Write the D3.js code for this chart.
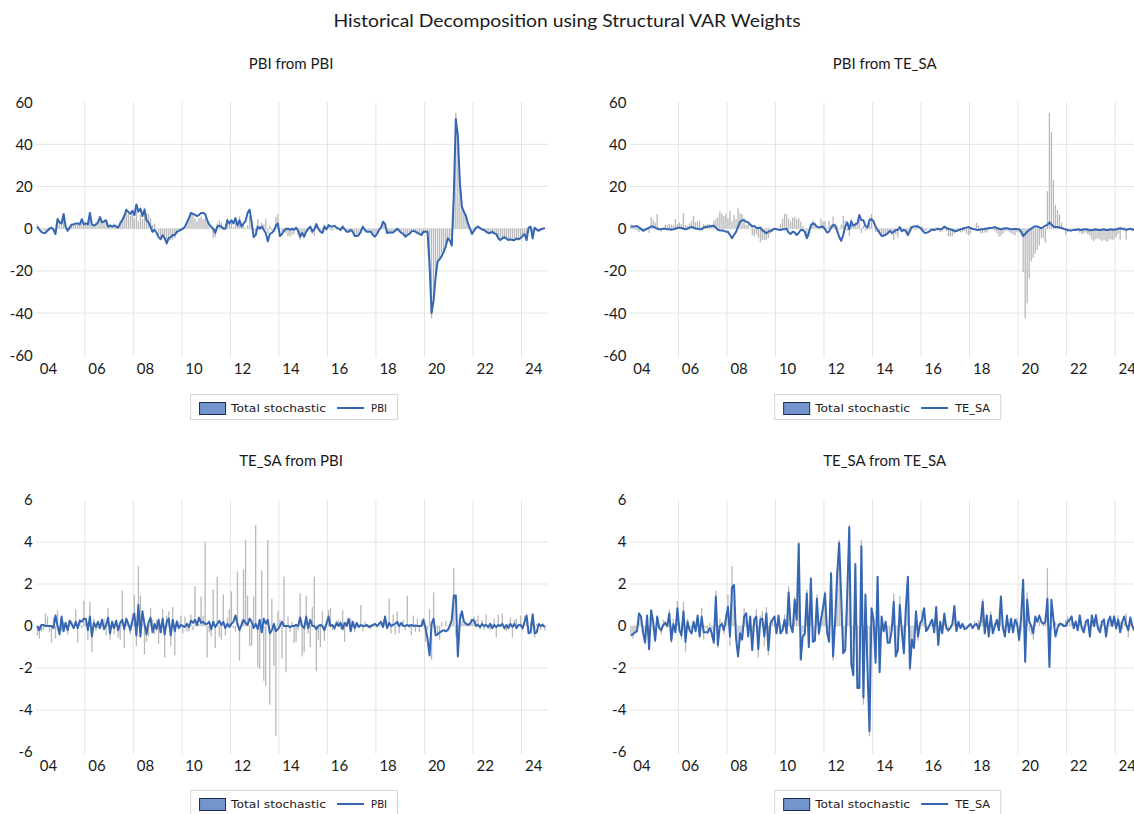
<!DOCTYPE html>
<html>
<head>
<meta charset="utf-8">
<script src="https://cdn.jsdelivr.net/npm/d3@7"></script>
<style>
  body { margin: 0; background: #ffffff; }
  svg { display: block; }
  text { font-family: Lato, "Open Sans", "Liberation Sans", sans-serif; fill: #1a1a1a; }
  .legend text { font-family: "DejaVu Sans", Verdana, sans-serif; }
</style>
</head>
<body>
<svg id="chart" width="1134" height="814"></svg>
<script>
// Monthly sample, 2004M01 - 2024M12
const startYear = 2004;
const nMonths = 252;
const xTickLabels = ["04", "06", "08", "10", "12", "14", "16", "18", "20", "22", "24"];
const pbiTicks = [-60, -40, -20, 0, 20, 40, 60];
const teTicks = [-6, -4, -2, 0, 2, 4, 6];

// PBI: total stochastic component
const pbiTotal = [
  2, 0.5, -0.5, -0.7, -1.5, -1, -1, 0, -0.5, -2, 5.5, 4,
  3, 7, 0.7, -1.3, 0.5, 2, 1.7, 2.2, 2, 1.7, 4.5, 2.3,
  3, 2.3, 7.5, 1.7, 1.5, 2.5, 3.8, 6, 3, 3.5, 3.7, 0.7,
  2.1, 1.8, 2.4, 2.1, 1.8, 3.9, 4.5, 5.5, 8.2, 7.1, 6, 7.1,
  5, 8.5, 3.5, 6.5, 4.5, 10, 7.3, 7, 5, 1.8, 2.5, 0,
  -3, -3.7, -2.5, -4.3, -6.4, -5.3, -5.4, -5.2, -4.4, -2.5, -1.6, -0.5,
  -0.3, 0.5, 2.4, 4.7, 7.2, 7, 4.7, 3.5, 5.1, 5.7, 4.5, 5,
  3.4, 1.4, -0.4, -4.5, -4, 2.5, 4, 3, 1, 0.6, 4.8, 3.5,
  3.7, 0.7, 3.6, 2, 5.8, 2.5, 1.5, -0.3, 1.7, 6, 4, -1,
  -3.3, 4.5, 1.4, 3, 2, 4.5, -2, 1.5, -0.8, -0.4, 5.5, 7,
  0, -1.5, -1.6, -2, -3.5, -3.7, -3, -2.7, -0.5, -3, -5.3, -2.6,
  -4.4, -0.6, -1.2, 0.4, -2.4, -3.3, 1.2, 0.8, -0.4, -0.8, 2, 0.2,
  1.1, -0.8, -1, -0.2, -0.5, -0.3, -1.2, 0.7, -0.3, -1.7, -1.4, 0.4,
  -1.1, -3.5, -3.8, -3.6, -2.4, -0.2, -1.2, -1.7, -1.4, -1.1, -2.5, -3,
  -2.2, -0.6, 0.2, 2.8, 1.6, -2.3, -2.1, -1.8, -1.8, -0.7, 0.3, -0.5,
  -1.2, -2.2, -3.8, -3.3, -2.5, -1.2, -0.8, -1.4, -2.3, -2.7, -3.2, -1.7,
  -1.7, -2.8, -20.5, -42.5, -35.4, -23.6, -15.5, -13.9, -11.8, -10, -7.9, -4.3,
  -4.7, -6.6, 17.8, 55, 46, 23, 11.3, 8.8, 6.6, 2.8, 0, -2.8,
  -1.6, -0.3, 0.2, -0.3, -0.9, -0.9, -1.9, -2.6, -2.3, -1.8, -2.7, -3.3,
  -5.1, -5.9, -4.9, -4.6, -5.2, -5.9, -5.3, -6, -6, -4.9, -5.5, -5,
  -3.8, -2.5, -5.2, 0.5, 0.7, -5.1, 0.2, -0.5, -1.3, -0.8, -0.3, 0.1
];

// PBI: contribution of PBI shocks
const pbiFromPbi = [
  1, -0.5, -1.5, -2, -2, -1, 0, 0.5, -0.5, -2.5, 4.5, 3,
  2.5, 7, 1, -1, 0.5, 2, 2, 2.5, 2.5, 2, 4.5, 2,
  2.5, 2, 7.5, 2, 1.5, 2, 3, 5.5, 3, 3.5, 4, 1,
  1.5, 1, 1.5, 1, 0.5, 2.5, 4, 6, 9, 8, 7, 8.5,
  6.5, 11.5, 8, 9.5, 6, 9, 4, 3, 1, -1.5, -0.5, -2,
  -4, -5, -3, -4.5, -7, -4.5, -4, -3, -3, -1.5, -1, -0.5,
  0, 1, 3, 5, 7.5, 7, 6.5, 6, 6.5, 7.5, 7.5, 7,
  4, 2, 1, 0, -2, 1, 1.5, 1, 0, 0, 4, 2.5,
  4, 2.5, 5, 1.5, 4, 1, 2.5, 3.5, 7.5, 9, 3, -4,
  -3, 1, 0, 1, -0.5, -2, -6, -2.5, -2, -1, 1.5, 2.5,
  -3.5, -2.5, -1, 0, 0, -0.5, 0, -0.5, 0.5, -1, -3.8, -2,
  -3.8, -1.4, 0, 1, -1.4, -0.3, 2.2, 0, -1.4, -2, 1, -0.3,
  1.7, 1, 1, 1.4, 0.5, 0, -0.6, 1, -0.3, -1.4, -1.4, -0.6,
  -1.4, -3.5, -3.5, -3, -1.4, 1, -0.6, -1.4, -1.4, -1.4, -3, -3.8,
  -2.5, -0.6, 0.5, 3.3, 2.2, -2, -1.8, -1.8, -1.8, -1, 0, -1,
  -2, -2.5, -3.8, -3, -2.5, -1.4, -1, -1.4, -2, -2.5, -3, -1.5,
  -1.4, -1.4, -17, -40, -34, -23, -15.5, -14.5, -13, -11, -8.5, -4.5,
  -5.5, -8, 16, 52, 44, 22, 10.5, 8, 6, 2.5, 0, -2.5,
  -1, 0.5, 1, 0.3, -0.3, -0.6, -1.4, -2, -2, -1.5, -2.2, -2.5,
  -4.5, -5.4, -4.6, -4, -4.6, -5.4, -5, -5.4, -5.4, -4.6, -5, -4.5,
  -3.5, -2.5, -5.4, 0.5, 1, -4.6, 0.5, -0.5, -1, -0.3, 0, 0.3
];

// PBI: contribution of TE_SA shocks
const pbiFromTe = [
  1, 1, 1, 1.3, 0.5, 0, -1, -0.5, 0, 0.5, 1, 1,
  0.5, 0, -0.3, -0.3, 0, 0, -0.3, -0.3, -0.5, -0.3, 0, 0.3,
  0.5, 0.3, 0, -0.3, 0, 0.5, 0.8, 0.5, 0, 0, -0.3, -0.3,
  0.6, 0.8, 0.9, 1.1, 1.3, 1.4, 0.5, -0.5, -0.8, -0.9, -1, -1.4,
  -1.5, -3, -4.5, -3, -1.5, 1, 3.3, 4, 4, 3.3, 3, 2,
  1, 1.3, 0.5, 0.2, 0.6, -0.8, -1.4, -2.2, -1.4, -1, -0.6, 0,
  -0.3, -0.5, -0.6, -0.3, -0.3, 0, -1.8, -2.5, -1.4, -1.8, -3, -2,
  -0.6, -0.6, -1.4, -4.5, -2, 1.5, 2.5, 2, 1, 0.6, 0.8, 1,
  -0.3, -1.8, -1.4, 0.5, 1.8, 1.5, -1, -3.8, -5.8, -3, 1, 3,
  -0.3, 3.5, 1.4, 2, 2.5, 6.5, 4, 4, 1.2, 0.6, 4, 4.5,
  3.5, 1, -0.6, -2, -3.5, -3.2, -3, -2.2, -1, -2, -1.5, -0.6,
  -0.6, 0.8, -1.2, -0.6, -1, -3, -1, 0.8, 1, 1.2, 1, 0.5,
  -0.6, -1.8, -2, -1.6, -1, -0.3, -0.6, -0.3, 0, -0.3, 0, 1,
  0.3, 0, -0.3, -0.6, -1, -1.2, -0.6, -0.3, 0, 0.3, 0.5, 0.8,
  0.3, 0, -0.3, -0.5, -0.6, -0.3, -0.3, 0, 0, 0.3, 0.3, 0.5,
  0.8, 0.3, 0, -0.3, 0, 0.2, 0.2, 0, -0.3, -0.2, -0.2, -0.2,
  -0.3, -1.4, -3.5, -2.5, -1.4, -0.6, 0, 0.6, 1.2, 1, 0.6, 0.2,
  0.8, 1.4, 1.8, 3, 2, 1, 0.8, 0.8, 0.6, 0.3, 0, -0.3,
  -0.6, -0.8, -0.8, -0.6, -0.6, -0.3, -0.5, -0.6, -0.3, -0.3, -0.5, -0.8,
  -0.6, -0.5, -0.3, -0.6, -0.6, -0.5, -0.3, -0.6, -0.6, -0.3, -0.5, -0.5,
  -0.3, 0, 0.2, 0, -0.3, -0.5, -0.3, 0, -0.3, -0.5, -0.3, -0.2
];

// TE_SA: total stochastic component
const teTotal = [
  -0.45, -0.6, -0.25, -0.2, 0.6, 0.45, -0.3, -0.8, 0.4, -0.6, 0.75, -0.2,
  -0.25, 0.2, 0.05, -0.4, 0.3, 0.25, -0.1, 0.8, -0.8, 0.35, -0.1, 1.2,
  0.15, -0.65, 1.15, -1.25, 0.35, -0.25, -0.15, 0.1, 0.05, 0.35, -0.45, 0.85,
  -0.65, -0.1, -0.4, 0.15, -0.55, -0.65, 1.7, -1.05, 0.35, 0.2, -0.4, 0.6,
  1.5, -0.95, 2.85, 1.45, 0.1, -1.35, -0.75, -0.5, 0.85, 0.3, -0.4, 0.3,
  -0.85, 0, 0.8, -1.5, 0.5, 0.7, -0.95, 0.9, -1.4, 0.3, 0.2, 0.5,
  -0.35, 0.45, -0.25, -0.25, 0.55, -0.2, 1.9, 0.05, 0.1, 1.4, 0.5, 4.0,
  -1.5, -0.3, -0.5, 1.75, -1.05, 2.35, -0.5, -0.65, 1.5, -0.45, 0.4, 0.8,
  1.65, -0.1, -0.25, 2.6, -1.65, 0.25, 2.7, 4.1, 1.45, -0.95, -0.95, 1.4,
  4.8, -1.95, -2.05, 2.65, -2.6, -2.85, 4.1, -3.75, 1.3, -1.9, -5.25, 0.7,
  0.3, -1.55, 2.35, -2.2, 0.45, -0.3, 0.2, -0.8, -0.75, -0.2, 1.55, -1.45,
  -1.25, 1.45, -0.35, -1.0, 0.9, 2.35, -2.15, -0.65, -1.0, 0.7, -0.7, 0.2,
  0.75, 0.85, -0.2, -0.2, 0.25, 0.3, -0.15, 0.75, -0.75, 0.2, 0, 0.35,
  0.1, -0.3, 0.05, 0.05, 1.0, -0.25, 0.2, -0.05, 0.05, -0.15, -0.05, 0.1,
  0.1, 0, 0.25, 0.05, 0.3, 0.1, 1.3, -0.35, 0.55, -0.4, 0.7, -0.35,
  0.15, 0.3, -0.2, 1.45, -0.1, -0.45, 0.5, -0.28, 0.35, -0.3, 0.3, 0.4,
  -0.75, -0.2, 0.8, -1.6, 1.6, -0.25, -0.4, -0.65, 0.2, 0, 0.25, 0,
  0.1, 0.5, 2.75, -0.5, -0.2, 0.6, 0.2, 0.1, 0.2, 0.15, 0.1, 0.3,
  0.45, 0.3, 0.5, -0.15, 0.3, -0.2, 0.55, -0.15, -0.2, 0.1, 0.35, -0.55,
  0.55, 0, 0.6, -0.2, -0.25, 0.1, 0.4, -0.55, 0.3, 0.35, 0.05, 0.5,
  -0.2, 0.5, 0.2, -0.15, 0.15, 0.6, -0.55, 0.1, 0.1, -0.2, 0.15, -0.2
];

// TE_SA: contribution of PBI shocks
const teFromPbi = [
  0, -0.2, 0.05, 0.05, 0, 0, 0, 0, -0.1, 0.5, 0, -0.4,
  0.45, -0.25, 0.15, -0.2, 0.25, 0.1, -0.1, 0.2, -0.1, 0.25, 0.2, 0.35,
  0.35, -0.2, 0.45, -0.5, 0.15, -0.05, 0.2, -0.1, 0.3, -0.15, 0.05, 0.4,
  -0.35, 0.2, -0.1, 0.25, -0.2, 0.15, 0.3, -0.15, 0.35, 0.1, -0.2, 0.25,
  0.6, -0.45, 1.0, -0.5, 0.7, 0.1, -0.4, 0.15, 0.4, -0.3, 0.1, -0.15,
  0.3, -0.3, 0.35, -0.4, 0.2, 0.35, -0.45, 0.3, -0.25, 0.2, -0.1, 0.05,
  0, -0.05, 0.1, -0.05, 0.25, 0.15, 0.3, 0.05, 0.4, 0.15, 0.2, 0.1,
  0.1, 0.2, -0.15, 0.2, -0.05, 0.1, 0.25, 0.05, 0.2, -0.1, 0.1, -0.05,
  0.1, 0.2, 0.5, 0.1, -0.2, 0.05, 0.3, 0.15, 0.05, 0.35, 0.2, -0.1,
  0.1, -0.15, 0.3, -0.3, 0.35, 0.1, 0.3, -0.35, -0.2, 0.1, -0.25, -0.15,
  0, 0.2, 0, 0, 0, -0.05, 0, 0, 0.05, 0, 0.4, 0,
  -0.1, 0.45, -0.1, 0.3, 0, 0, -0.15, 0, 0.05, 0, -0.2, 0.1,
  0.45, 0, 0.05, -0.1, 0.15, 0, 0.15, -0.15, 0.15, 0, 0.35, -0.25,
  0.2, -0.1, 0.15, -0.05, 0.05, 0, 0, 0.05, -0.05, 0, 0.05, 0.1,
  0, 0.1, 0.2, -0.05, 0.45, -0.1, 0.15, 0, 0.05, 0.1, 0.2, 0,
  0.15, 0, 0, 0.05, 0, 0.05, 0, 0.02, 0, 0, 0, 0.3,
  -0.1, -0.6, -1.4, 0.1, 0.35, -0.45, -0.4, -0.3, -0.25, -0.2, -0.25, -0.2,
  0, 0.3, 1.45, 1.45, -1.45, 0.3, 0.7, 0.2, 0.1, 0.05, 0.1, 0.3,
  0.25, 0, 0.05, -0.05, 0.1, 0, 0.05, -0.05, 0.1, -0.1, 0.05, -0.05,
  0.05, 0, 0.1, -0.1, 0.05, -0.1, 0.1, -0.05, 0.1, -0.1, 0.05, 0.05,
  -0.1, 0.2, 0.5, -0.35, -0.3, 0.55, -0.35, -0.3, 0.1, 0, 0.05, -0.05
];

// TE_SA: contribution of TE_SA shocks
const teFromTe = [
  -0.45, -0.4, -0.3, -0.25, 0.6, 0.45, -0.3, -0.8, 0.5, -1.1, 0.75, 0.2,
  -0.7, 0.45, -0.1, -0.2, 0.05, 0.15, 0, 0.6, -0.7, 0.1, -0.3, 0.85,
  -0.2, -0.45, 0.7, -0.75, 0.2, -0.2, -0.35, 0.2, -0.25, 0.5, -0.5, 0.45,
  -0.3, -0.3, -0.3, -0.1, -0.35, -0.8, 1.4, -0.9, 0, 0.1, -0.2, 0.35,
  0.9, -0.5, 1.85, 1.95, -0.6, -1.45, -0.35, -0.65, 0.45, 0.6, -0.5, 0.45,
  -1.15, 0.3, 0.45, -1.1, 0.3, 0.35, -0.5, 0.6, -1.15, 0.1, 0.3, 0.45,
  -0.35, 0.5, -0.35, -0.2, 0.3, -0.35, 1.6, 0, -0.3, 1.25, 0.3, 3.9,
  -1.6, -0.5, -0.35, 1.55, -1.0, 2.25, -0.75, -0.7, 1.3, -0.35, 0.3, 0.85,
  1.55, -0.3, -0.75, 2.5, -1.45, 0.2, 2.4, 3.95, 1.4, -1.3, -1.15, 1.5,
  4.7, -1.8, -2.35, 2.95, -2.95, -2.95, 3.8, -3.4, 1.5, -2.0, -5.0, 0.85,
  0.3, -1.75, 2.35, -2.2, 0.45, -0.25, 0.2, -0.8, -0.8, -0.2, 1.15, -1.45,
  -1.15, 1.0, -0.25, -1.3, 0.9, 2.35, -2.0, -0.65, -1.05, 0.7, -0.5, 0.1,
  0.3, 0.85, -0.25, -0.1, 0.1, 0.3, -0.3, 0.9, -0.9, 0.2, -0.35, 0.6,
  -0.1, -0.2, -0.1, 0.1, 0.95, -0.25, 0.2, -0.1, 0.1, -0.15, -0.1, 0,
  0.1, -0.1, 0.05, 0.1, -0.15, 0.2, 1.15, -0.35, 0.5, -0.5, 0.5, -0.35,
  0, 0.3, -0.2, 1.4, -0.1, -0.5, 0.5, -0.3, 0.35, -0.3, 0.3, 0.1,
  -0.65, 0.4, 2.2, -1.7, 1.25, 0.2, 0, -0.35, 0.45, 0.2, 0.5, 0.2,
  0.1, 0.2, 1.3, -1.95, 1.25, 0.3, -0.5, -0.1, 0.1, 0.1, 0, 0,
  0.2, 0.3, 0.45, -0.1, 0.2, -0.2, 0.5, -0.1, -0.3, 0.2, 0.3, -0.5,
  0.5, 0, 0.5, -0.1, -0.3, 0.2, 0.3, -0.5, 0.2, 0.45, 0, 0.45,
  -0.1, 0.3, -0.3, 0.2, 0.45, 0.05, -0.2, 0.4, 0, -0.2, 0.1, -0.15
];

const chartTitle = "Historical Decomposition using Structural VAR Weights";
const barName = "Total stochastic";

const panels = [
  { title: "PBI from PBI",     bars: pbiTotal, line: pbiFromPbi, lineName: "PBI",   col: 0, row: 0 },
  { title: "PBI from TE_SA",   bars: pbiTotal, line: pbiFromTe,  lineName: "TE_SA", col: 1, row: 0 },
  { title: "TE_SA from PBI",   bars: teTotal,  line: teFromPbi,  lineName: "PBI",   col: 0, row: 1 },
  { title: "TE_SA from TE_SA", bars: teTotal,  line: teFromTe,   lineName: "TE_SA", col: 1, row: 1 }
];

// ---- layout ----
const colLeft = [36.3, 629.9];
const plotW = 509.5;
const rows = [
  { top: 102.1, bottom: 355.3, ticks: pbiTicks, titleY: 69, xLabY: 374, legY: 394 },
  { top: 500,   bottom: 752,   ticks: teTicks,  titleY: 466, xLabY: 771, legY: 790 }
];
const colors = {
  bar: "#b9b9b9",
  line: "#3566b4",
  grid: "#e4e4e4",
  swatch: "#7394cd",
  swatchEdge: "#1d2b4a",
  legendBorder: "#d6d6d6"
};

// month index of January of a two-digit year label
const monthOfLabel = lbl => (2000 + (+lbl) - startYear) * 12;

const svg = d3.select("#chart");
svg.append("rect").attr("width", 1134).attr("height", 814).attr("fill", "#fff");

svg.append("text")
  .attr("x", 567).attr("y", 27)
  .attr("text-anchor", "middle")
  .attr("font-size", 18)
  .attr("textLength", 467).attr("lengthAdjust", "spacingAndGlyphs")
  .text(chartTitle);

panels.forEach((p, i) => {
  const r = rows[p.row];
  const x0 = colLeft[p.col];
  const x = d3.scaleLinear().domain([0, nMonths]).range([x0, x0 + plotW]);
  const y = d3.scaleLinear().domain(d3.extent(r.ticks)).range([r.bottom, r.top]);
  const g = svg.append("g");

  // grid
  const gridYears = d3.range(2006, 2025, 2);
  g.selectAll(".vg").data(gridYears).join("line")
    .attr("x1", d => x((d - startYear) * 12)).attr("x2", d => x((d - startYear) * 12))
    .attr("y1", r.top).attr("y2", r.bottom + 2)
    .attr("stroke", colors.grid).attr("stroke-width", 1);
  g.selectAll(".hg").data(r.ticks.slice(1, -1)).join("line")
    .attr("x1", x0).attr("x2", x0 + plotW + 2)
    .attr("y1", d => y(d)).attr("y2", d => y(d))
    .attr("stroke", colors.grid).attr("stroke-width", 1);

  // y tick labels
  g.selectAll(".yl").data(r.ticks).join("text")
    .attr("x", x0 - 3.5).attr("y", d => y(d))
    .attr("dy", "0.36em")
    .attr("text-anchor", "end").attr("font-size", 15)
    .text(d => d);

  // x tick labels, centred on the year
  g.selectAll(".xl").data(xTickLabels).join("text")
    .attr("x", d => x(monthOfLabel(d) + 6)).attr("y", r.xLabY)
    .attr("text-anchor", "middle").attr("font-size", 15)
    .text(d => d);

  // panel title
  g.append("text")
    .attr("x", x0 + plotW / 2).attr("y", r.titleY)
    .attr("text-anchor", "middle").attr("font-size", 15)
    .text(p.title);

  // bars: total stochastic
  const bw = 1.3;
  g.append("g").selectAll("rect").data(p.bars).join("rect")
    .attr("x", (d, k) => x(k + 0.5) - bw / 2)
    .attr("width", bw)
    .attr("y", d => Math.min(y(d), y(0)))
    .attr("height", d => Math.abs(y(d) - y(0)))
    .attr("fill", colors.bar);

  // line: contribution of the shock
  const lineGen = d3.line().x((d, k) => x(k + 0.5)).y(d => y(d));
  g.append("path").datum(p.line)
    .attr("d", lineGen)
    .attr("fill", "none")
    .attr("stroke", colors.line)
    .attr("stroke-width", 2)
    .attr("stroke-linejoin", "round");

  // legend
  const lg = svg.append("g").attr("class", "legend");
  const nameW = p.lineName === "PBI" ? 16 : 35;
  const legW = 9 + 26 + 6 + 95 + 11 + 27 + 7 + nameW + 10;
  const L = x0 + plotW / 2 + 2.5 - legW / 2;
  const T = r.legY;
  lg.append("rect").attr("x", L + 0.5).attr("y", T + 0.5).attr("width", legW).attr("height", 25)
    .attr("fill", "#fff").attr("stroke", colors.legendBorder);
  lg.append("rect").attr("x", L + 9.5).attr("y", T + 8.5).attr("width", 26).attr("height", 12)
    .attr("fill", colors.swatch).attr("stroke", colors.swatchEdge);
  lg.append("text").attr("x", L + 41).attr("y", T + 18).attr("font-size", 11)
    .attr("textLength", 95).attr("lengthAdjust", "spacingAndGlyphs")
    .text(barName);
  const lx = L + 41 + 95 + 11;
  lg.append("line").attr("x1", lx).attr("x2", lx + 27).attr("y1", T + 14).attr("y2", T + 14)
    .attr("stroke", colors.line).attr("stroke-width", 2);
  lg.append("text").attr("x", lx + 27 + 7).attr("y", T + 18).attr("font-size", 11)
    .attr("textLength", nameW).attr("lengthAdjust", "spacingAndGlyphs")
    .text(p.lineName);
});
</script>
</body>
</html>
